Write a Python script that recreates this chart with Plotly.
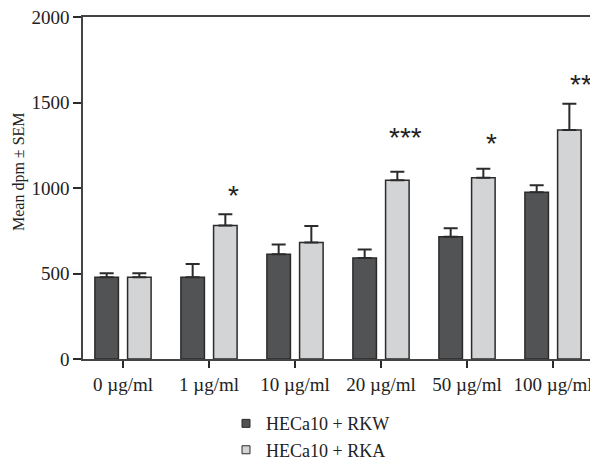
import plotly.graph_objects as go

categories = ["0 µg/ml", "1 µg/ml", "10 µg/ml", "20 µg/ml", "50 µg/ml", "100 µg/ml"]
rkw_mean = [478, 478, 612, 591, 715, 975]
rkw_sem = [23, 77, 57, 50, 49, 41]
rka_mean = [478, 780, 682, 1045, 1060, 1339]
rka_sem = [23, 66, 96, 50, 53, 154]
sig_labels = ["", "*", "", "***", "*", "**"]
sig_y = [0, 982, 0, 1321, 1281, 1626]
series_names = ["HECa10 + RKW", "HECa10 + RKA"]

dark = "#525355"
light = "#d3d4d6"
edge = "#2b2b2b"
serif = "Liberation Serif, Times New Roman, serif"

xs = list(range(len(categories)))
fig = go.Figure()
for name, mean, sem, col in [(series_names[0], rkw_mean, rkw_sem, dark),
                             (series_names[1], rka_mean, rka_sem, light)]:
    fig.add_trace(go.Bar(
        x=xs, y=mean, name=name, showlegend=False,
        marker=dict(color=col, line=dict(color=edge, width=1.5)),
        error_y=dict(type="data", array=sem, arrayminus=[0]*len(sem), symmetric=False,
                     color=edge, thickness=2, width=7),
    ))
for name, col in [(series_names[0], dark), (series_names[1], light)]:
    fig.add_trace(go.Scatter(
        x=[None], y=[None], mode="markers", name=name,
        marker=dict(symbol="square", size=8, color=col, line=dict(color=edge, width=1)),
    ))

for i, (lab, yv) in enumerate(zip(sig_labels, sig_y)):
    if lab:
        fig.add_annotation(x=i + 0.19 + 0.1 + (0.04 if lab == "**" else 0), y=yv, text=lab,
                           showarrow=False, xref="x", yref="y", yanchor="middle",
                           font=dict(family="Liberation Sans, Arial, sans-serif", size=28, color="#222"),
                           yshift=-4)

fig.add_annotation(x=(19 - 83) / 507, y=(359 - 172) / 342, xref="paper", yref="paper",
                   text="Mean dpm ± SEM", textangle=-90, showarrow=False,
                   xanchor="center", yanchor="middle",
                   font=dict(family=serif, size=16, color="#222"))

fig.update_layout(
    width=590, height=459,
    margin=dict(l=83, r=0, t=17, b=100, autoexpand=False),
    paper_bgcolor="white", plot_bgcolor="white",
    barmode="group", bargap=0.24, bargroupgap=0.28,
    showlegend=True,
    legend=dict(x=(226 - 83) / 507, y=-0.135, xanchor="left", yanchor="top",
                font=dict(family=serif, size=18, color="#222"),
                bgcolor="rgba(0,0,0,0)", itemwidth=30),
    font=dict(family=serif, size=19, color="#222"),
)
fig.update_xaxes(
    range=[-0.465, 5.43], tickmode="array", tickvals=xs, automargin=False,
    ticktext=categories, ticks="outside", ticklen=7, tickwidth=1.5, tickcolor=edge,
    showline=True, linecolor="#444", linewidth=1.5, mirror=True, showgrid=False,
    zeroline=False, ticklabeloverflow="allow",
    tickfont=dict(family=serif, size=19, color="#222"),
)
fig.update_yaxes(
    range=[0, 2000], tickvals=[0, 500, 1000, 1500, 2000], ticks="outside", ticklen=8,
    tickwidth=1.5, tickcolor=edge, showline=True, linecolor="#444", linewidth=1.5,
    showgrid=False, zeroline=False, automargin=False,
    tickfont=dict(family=serif, size=19, color="#222"),
)

fig.write_html("out.html", config={"displayModeBar": False},
               post_script="document.body.style.margin='0';document.body.style.overflow='hidden';")
